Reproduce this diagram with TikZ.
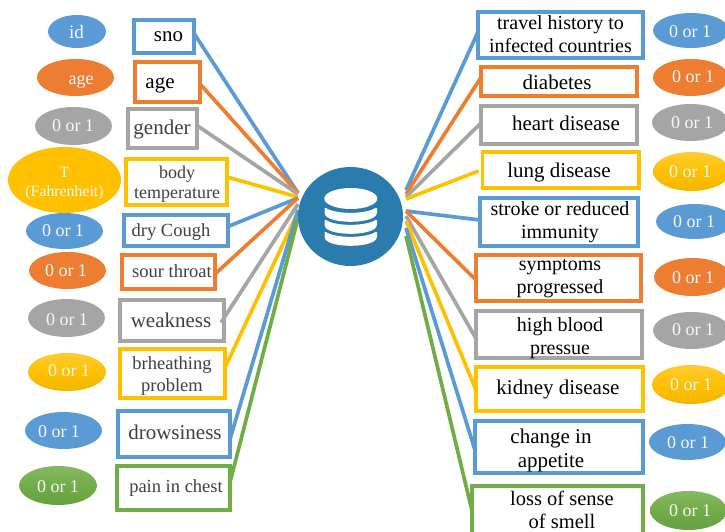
\documentclass[tikz,border=0pt]{standalone}
\usepackage{fontspec}
\setmainfont{Liberation Serif}
\usetikzlibrary{shapes.geometric}
\definecolor{cblue}{HTML}{5B9BD5}
\definecolor{corange}{HTML}{ED7D31}
\definecolor{cgray}{HTML}{A5A5A5}
\definecolor{cgold}{HTML}{FFC000}
\definecolor{cgreen}{HTML}{70AD47}
\definecolor{chub}{HTML}{2A7BAE}
\definecolor{tdark}{HTML}{404040}
\definecolor{twhite}{HTML}{F8F8F8}
\tikzset{
  boxnode/.style={draw=#1,line width=3.9pt,fill=white,rectangle,inner sep=0,outer sep=0},
  ellnode/.style={ellipse,inner sep=0,outer sep=0},
  eblue/.style={fill=cblue},
  eorange/.style={fill=corange},
  egray/.style={fill=cgray},
  eflatgold/.style={fill=cgold},
  egold/.style={top color=cgold!80!white,bottom color=cgold!95!black,middle color=cgold},
  egreen/.style={top color=cgreen!85!white,bottom color=cgreen!92!black,middle color=cgreen},
  lab/.style={inner sep=0,outer sep=0,align=center,yshift=-2.5pt},
  link/.style={line width=3.7pt}
}
\begin{document}
\begin{tikzpicture}[x=1pt,y=-1pt]
\useasboundingbox (0,0) rectangle (725,532);
\clip (0,0) rectangle (725,532);
% left and right boxes
\foreach \n/\xa/\ya/\xb/\yb/\col/\tx/\ty/\fs/\ld/\tc/\txt in {
 sno/132/18/196/55/cblue/168.5/34/21/23/black/{sno},
 age/133/60/202/104/corange/160/81/21/23/black/{age},
 gender/126/107/199/150/cgray/162/127/21/23/tdark/{gender},
 body/124/157/229/207/cgold/177/182/18/20/tdark/{body\\temperature},
 cough/122/213/230/248/cblue/171/230/18.5/21/tdark/{dry Cough},
 sour/120/253/217/291/corange/172/271/18.5/21/tdark/{sour throat},
 weak/118/298/226/343/cgray/171/320/21/23/tdark/{weakness},
 breath/118/347/227/400/cgold/172/374/18.5/22/tdark/{brheathing\\problem},
 drowsy/116/409/232/459/cblue/175/432/21/23/tdark/{drowsiness},
 pain/115/464/232/512/cgreen/176/486/18.5/21/tdark/{pain in chest},
 travel/476/10/645/60/cblue/560.5/34/20/22.5/black/{travel history to\\infected countries},
 diab/479/65/639/98/corange/557/82/21/23/black/{diabetes},
 heart/479/104/639/146/cgray/566/123/21/23/black/{heart disease},
 lung/480.5/150/641/190/cgold/559/170/21/23/black/{lung disease},
 stroke/478/196/640/248/cblue/560/220/20/23/black/{stroke or reduced\\immunity},
 sympt/474/253/643/303/corange/560/275/20/23/black/{symptoms\\progressed},
 blood/474/309/644/360/cgray/560/336/20/23/black/{high blood\\pressue},
 kidney/474/365/645/413/cgold/558/387/21/23/black/{kidney disease},
 change/473/419/645/475/cblue/551/448/21/24/black/{change in\\appetite},
 loss/470/484/645/545/cgreen/562/510/20.5/22.5/black/{loss of sense\\of smell}%
}{
  \node[boxnode=\col,minimum width={(\xb-\xa-3.9)*1pt},minimum height={(\yb-\ya-3.9)*1pt}]
    (\n) at ({(\xa+\xb)/2},{(\ya+\yb)/2}) {};
  \node[lab,text=\tc,font=\fontsize{\fs}{\ld}\selectfont] (\n-t) at (\tx,\ty) {\strut\txt\strut};
}
% ellipses
\foreach \n/\xa/\ya/\xb/\yb/\col/\tx/\ty/\fs/\txt in {
 e1/48/15/106/48/eblue/76.5/32/19/{id},
 e2/37/59/114/96/eorange/81/78/18/{age},
 e3/35/107/112/145/egray/73/125/18/{0 or 1},
 e4/8/147/121/213/eflatgold/64.5/181/15.8/{T\\(Fahrenheit)},
 e5/26/213/103/249/eblue/63/230/18/{0 or 1},
 e6/29/252/106/289/eorange/66/270/18/{0 or 1},
 e7/28/299/105/337/egray/67/319/18/{0 or 1},
 e8/28/353/106/391/egold/69/370/18/{0 or 1},
 e9/25/412/102/449/eblue/59/431/18/{0 or 1},
 e10/19/466/97/505/egreen/58/486/18/{0 or 1},
 f1/653/13/729/48/eblue/690/31/18/{0 or 1},
 f2/653/59/729/96/eorange/693/76/18/{0 or 1},
 f3/652/104/729/141/egray/692/122/18/{0 or 1},
 f4/653/152/730/191/egold/690/171/18/{0 or 1},
 f5/656/204/733/239/eblue/694/221/18/{0 or 1},
 f6/654/258/731/296/eorange/693/277/18/{0 or 1},
 f7/653/312/730/349/egray/693/329/18/{0 or 1},
 f8/652/365/730/404/egold/691/384/18/{0 or 1},
 f9/649/424/726/460/eblue/688/442/18/{0 or 1},
 f10/650/491/727/530/egreen/690/510/18/{0 or 1}%
}{
  \node[ellnode,\col,minimum width={(\xb-\xa)*1pt},minimum height={(\yb-\ya)*1pt}]
    (\n) at ({(\xa+\xb)/2},{(\ya+\yb)/2}) {};
  \node[lab,text=twhite,font=\fontsize{\fs}{18.5}\selectfont] (\n-t) at (\tx,\ty) {\strut\txt\strut};
}
% connectors
\foreach \n/\an/\dx/\dy/\hx/\hy/\col in {
 sno/east/0/-3/298/193/cblue,
 age/east/0/2/298/193/corange,
 gender/east/0/-3/298/194/cgray,
 body/east/0/-5/298/197/cgold,
 cough/east/0/-4/298/198/cblue,
 sour/east/0/2/298/198/corange,
 weak/east/-3/2/298/204/cgray,
 breath/east/0/-6/298/212/cgold,
 drowsy/east/0/5/298/210/cblue,
 pain/east/0/-6/298/218/cgreen,
 travel/west/0/-3/406/190/cblue,
 diab/west/0/-4/406/194/corange,
 heart/west/-1/-1/406/197/cgray,
 lung/west/-4/1/406/199/cgold,
 stroke/west/0/-2/406/211/cblue,
 sympt/west/0/2/406/211/corange,
 blood/west/0/4/406/216/cgray,
 kidney/west/0/1/406/221/cgold,
 change/west/0/3/406/228/cblue,
 loss/west/0/-4/406/236/cgreen%
}{
  \coordinate (\n-h) at (\hx,\hy);
  \draw[link,\col] (\n-h) -- ([shift={(\dx,\dy)}]\n.\an);
}
% hub with database icon
\node[ellnode,fill=chub,minimum width=105pt,minimum height=99pt] (hub) at (350.5,216.5) {};
\fill[white] (350.8,198.5) ellipse [x radius=26.5,y radius=10.5];
\foreach \d in {0,12,24}{
  \fill[white,rounded corners=1.5pt] (324.5,207+\d) .. controls (335,214.5+\d) and (366,214.5+\d) .. (377,207+\d)
    -- (377,214+\d) .. controls (370,224+\d) and (331,224+\d) .. (324.5,214+\d) -- cycle;
}
\end{tikzpicture}
\end{document}
